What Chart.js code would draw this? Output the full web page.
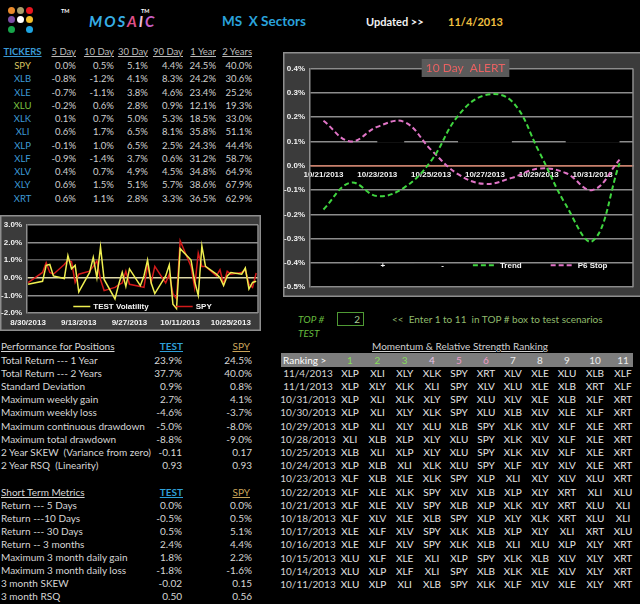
<!DOCTYPE html>
<html><head><meta charset="utf-8">
<script src="https://cdn.jsdelivr.net/npm/chart.js@4.4.0/dist/chart.umd.min.js"></script>
<style>
html,body{margin:0;padding:0;background:#000;}
#page{position:relative;width:640px;height:604px;overflow:hidden;background:#000;font-family:Lato,'Open Sans',sans-serif;font-size:10px;color:#d6d6d6;}
.t{position:absolute;white-space:nowrap;line-height:12px;}
#alertWrap{position:absolute;left:283px;top:52px;width:360px;height:245px;}
#volWrap{position:absolute;left:0;top:215px;width:261px;height:116px;}
.dot{position:absolute;width:7px;height:7px;border-radius:50%;}
#band{position:absolute;left:281px;top:353px;width:352px;height:13.5px;background:#7d7d7d;}
#topbox{position:absolute;left:337px;top:312px;width:25px;height:12px;border:1.5px solid #4f9a34;}
</style></head><body><div id="page">
<div id="band"></div>
<div id="topbox"></div>
<div id="alertWrap"><canvas id="alert"></canvas></div>
<div id="volWrap"><canvas id="vol"></canvas></div>
</div>
<script>
// ---------- DATA ----------
const tickers = ['SPY','XLB','XLE','XLU','XLK','XLI','XLP','XLF','XLV','XLY','XRT'];
const periodLabels = ['5 Day','10 Day','30 Day','90 Day','1 Year','2 Years'];
const ret5d  = [0.0,-0.8,-0.7,-0.2,0.1,0.6,-0.1,-0.9,0.4,0.6,0.6];
const ret10d = [0.5,-1.2,-1.1,0.6,0.7,1.7,1.0,-1.4,0.7,1.5,1.1];
const ret30d = [5.1,4.1,3.8,2.8,5.0,6.5,6.5,3.7,4.9,5.1,2.8];
const ret90d = [4.4,8.3,4.6,0.9,5.3,8.1,2.5,0.6,4.5,5.7,3.3];
const ret1y  = [24.5,24.2,23.4,12.1,18.5,35.8,24.3,31.2,34.8,38.6,36.5];
const ret2y  = [40.0,30.6,25.2,19.3,33.0,51.1,44.4,58.7,64.9,67.9,62.9];

const perfMetrics = ['Total Return --- 1 Year','Total Return --- 2 Years','Standard Deviation','Maximum weekly gain','Maximum weekly loss','Maximum continuous drawdown','Maximum total drawdown','2 Year SKEW  (Variance from zero)','2 Year RSQ  (Linearity)'];
const perfTest = ['23.9%','37.7%','0.9%','2.7%','-4.6%','-5.0%','-8.8%','-0.11','0.93'];
const perfSpy  = ['24.5%','40.0%','0.8%','4.1%','-3.7%','-8.0%','-9.0%','0.17','0.93'];

const shortMetrics = ['Return --- 5 Days','Return ---10 Days','Return --- 30 Days','Return -- 3 months','Maximum 3 month daily gain','Maximum 3 month daily loss','3 month SKEW','3 month RSQ'];
const shortTest = ['0.0%','-0.5%','0.5%','2.4%','1.8%','-1.8%','-0.02','0.50'];
const shortSpy  = ['0.0%','0.5%','5.1%','4.4%','2.2%','-1.6%','0.15','0.56'];

const rankNumbers = ['1','2','3','4','5','6','7','8','9','10','11'];
const rankDates = ['11/4/2013','11/1/2013','10/31/2013','10/30/2013','10/29/2013','10/28/2013','10/25/2013','10/24/2013','10/23/2013','10/22/2013','10/21/2013','10/18/2013','10/17/2013','10/16/2013','10/15/2013','10/14/2013','10/11/2013'];
const rankRows = [
 'XLP XLI XLY XLK SPY XRT XLV XLE XLU XLB XLF',
 'XLP XLY XLK XLI SPY XLV XLU XLE XLB XRT XLF',
 'XLP XLI XLK XLY SPY XLU XLV XLE XLB XLF XRT',
 'XLP XLI XLY XLK SPY XLU XLB XLV XLE XLF XRT',
 'XLP XLI XLY XLU XLB SPY XLK XLV XLF XLE XRT',
 'XLI XLB XLP XLY XLU SPY XLK XLV XLF XLE XRT',
 'XLB XLI XLP XLY XLU SPY XLK XLV XLF XLE XRT',
 'XLP XLB XLI XLK XLU SPY XLF XLY XLV XLE XRT',
 'XLF XLB XLE XLK SPY XLP XLI XLY XLV XLU XRT',
 'XLF XLE XLK SPY XLV XLB XLP XLY XRT XLI XLU',
 'XLF XLE XLV SPY XLB XLP XLK XLY XRT XLU XLI',
 'XLF XLV XLE XLB SPY XLP XLY XLK XRT XLU XLI',
 'XLE XLF XLV SPY XLK XLB XLP XLY XLI XRT XLU',
 'XLE XLF XLV SPY XLK XLB XLI XLU XLP XLY XRT',
 'XLU XLF XLE XLI XLP SPY XLK XLB XLV XLY XRT',
 'XLU XLP XLF XLI SPY XLB XLK XLE XLV XLY XRT',
 'XLU XLP XLI XLB SPY XLK XLF XLV XLE XLY XRT'
];

// 10 Day ALERT chart
const alertDays = ['10/21/2013','10/22/2013','10/23/2013','10/24/2013','10/25/2013','10/26/2013','10/27/2013','10/28/2013','10/29/2013','10/30/2013','10/31/2013','11/1/2013'];
const trendValues  = [-0.18,-0.07,-0.125,-0.09,0.02,0.205,0.29,0.265,0.06,-0.16,-0.31,0.01];
const p6StopValues = [0.185,0.10,0.16,0.18,0.065,-0.035,-0.075,-0.05,-0.012,-0.03,-0.10,0.025];
const plusValues   = [null,null,0.1,0.1,null,0.1,0.1,0.1,null,0.1,0.1,0.1];
const minusValues  = [null,null,null,null,null,null,null,null,null,null,null,null];

// Volatility chart
const volDates = ['8/30/2013','9/3/2013','9/4/2013','9/5/2013','9/6/2013','9/9/2013','9/10/2013','9/11/2013','9/12/2013','9/13/2013',
 '9/16/2013','9/17/2013','9/18/2013','9/19/2013','9/20/2013','9/23/2013','9/24/2013','9/25/2013','9/26/2013','9/27/2013',
 '9/30/2013','10/1/2013','10/2/2013','10/3/2013','10/4/2013','10/7/2013','10/8/2013','10/9/2013','10/10/2013','10/11/2013',
 '10/14/2013','10/15/2013','10/16/2013','10/17/2013','10/18/2013','10/21/2013','10/22/2013','10/23/2013','10/24/2013','10/25/2013',
 '10/28/2013','10/29/2013','10/30/2013','10/31/2013','11/1/2013'];
const testVol = [-0.37,-0.2,0.7,0.75,0.1,-0.05,1.25,0.5,0.7,-0.8,
 0.3,1.15,0.0,1.75,-0.1,-1.2,-0.4,0.3,-0.5,0.5,
 -0.45,0.1,1.0,-0.3,-0.9,0.1,0.73,-1.5,-1.75,1.65,
 1.0,-0.2,-1.0,1.8,0.64,0.2,0.0,-0.45,0.1,0.3,
 0.2,0.55,-0.64,-0.27,-0.2];
const spyRet = [-0.28,0.3,0.85,0.3,0.2,0.75,1.0,0.9,-0.27,0.2,
 0.37,0.64,0.95,-0.1,-0.73,-0.55,-0.4,-0.3,0.37,-0.37,
 -0.5,-0.55,0.73,-0.27,0.64,-0.3,0.2,-0.9,-1.2,2.1,
 0.64,-0.55,1.4,0.64,0.64,0.1,0.45,-0.37,0.37,0.2,
 0.3,0.45,-0.37,-0.55,0.27];
const volTickLabels = ['8/30/2013','9/13/2013','9/27/2013','10/11/2013','10/25/2013'];
const volTicks = [-2,-1,0,1,2,3];

// ---------- TEXT LAYOUT ----------
const page = document.getElementById('page');
function put(text, x, y, align, style, lh) {
  lh = lh || 12;
  const el = document.createElement('div');
  el.className = 't';
  el.textContent = text;
  el.style.lineHeight = lh + 'px';
  Object.assign(el.style, style || {});
  el.style.top = (y - lh / 2) + 'px';
  if (align === 'right') el.style.right = (640 - x) + 'px';
  else if (align === 'center') { el.style.left = x + 'px'; el.style.transform = 'translateX(-50%)'; }
  else el.style.left = x + 'px';
  page.appendChild(el);
  return el;
}
const pct = v => v.toFixed(1) + '%';

// header
const dotColors = [['#e88a2c','#a99f6b','#e8161e'],['#7b4ea6','#ffffff','#f2c02c'],['#17a54a',null,'#1ea5e2']];
dotColors.forEach((row, r) => row.forEach((c, k) => {
  if (!c) return;
  const d = document.createElement('div'); d.className = 'dot';
  d.style.left = (8 + k * 9) + 'px'; d.style.top = (6.5 + r * 9.5) + 'px'; d.style.background = c;
  page.appendChild(d);
}));
put('TM', 61, 11, 'left', {fontSize:'5.5px', fontWeight:'bold', color:'#fff'}, 8);
put('TM', 141, 11, 'left', {fontSize:'5.5px', fontWeight:'bold', color:'#fff'}, 8);
const mos = put('', 89, 21, 'left', {fontSize:'15px', fontWeight:'bold', fontStyle:'italic', letterSpacing:'2px'}, 18);
[['M','#37aee6'],['O','#37aee6'],['S','#37aee6'],['A','#e0508a'],['I','#f0c0d8'],['C','#c860c8']].forEach(([ch,c]) => {
  const s = document.createElement('span'); s.textContent = ch; s.style.color = c; mos.appendChild(s);
});
put('MS  X Sectors', 222, 21, 'left', {fontSize:'13.5px', fontWeight:'bold', color:'#2aa3dc', whiteSpace:'pre'}, 16);
put('Updated >>', 366, 22, 'left', {fontSize:'11px', fontWeight:'bold', color:'#f2f2f2'}, 14);
put('11/4/2013', 448, 22, 'left', {fontSize:'11px', fontWeight:'bold', color:'#f0c040'}, 14);

// tickers table
const colRight = [76,114,148,183,216,252];
const tblRow0 = 66, tblDy = 13.25;
put('TICKERS', 22.5, 51.5, 'center', {fontWeight:'bold', color:'#3a9ad6', textDecoration:'underline', fontSize:'9.5px'});
periodLabels.forEach((p, k) => put(p, colRight[k], 51.5, 'right', {color:'#bcbcbc', textDecoration:'underline', fontSize:'9.5px'}));
const tickerColor = t => t === 'SPY' ? '#d8c660' : (t === 'XLU' ? '#7cc242' : '#3d9ad6');
const retCols = [ret5d, ret10d, ret30d, ret90d, ret1y, ret2y];
tickers.forEach((t, i) => {
  const y = tblRow0 + i * tblDy;
  put(t, 22.5, y, 'center', {color: tickerColor(t), fontSize:'9.5px'});
  retCols.forEach((col, k) => put(pct(col[i]), colRight[k], y, 'right', {color:'#cfcfcf', fontSize:'9.5px'}));
});

// performance
put('Performance for Positions', 1, 346, 'left', {textDecoration:'underline', color:'#d6d6d6'});
put('TEST', 183, 346, 'right', {fontWeight:'bold', color:'#2f9fd8', textDecoration:'underline'});
put('SPY', 250, 346, 'right', {color:'#c9a45a', textDecoration:'underline'});
perfMetrics.forEach((m, i) => {
  const y = 360 + i * 13.1;
  put(m, 1, y, 'left', {whiteSpace:'pre'});
  put(perfTest[i], 182, y, 'right');
  put(perfSpy[i], 252, y, 'right');
});
put('Short Term Metrics', 1, 491.5, 'left', {textDecoration:'underline'});
put('TEST', 183, 491.5, 'right', {fontWeight:'bold', color:'#2f9fd8', textDecoration:'underline'});
put('SPY', 250, 491.5, 'right', {color:'#c9a45a', textDecoration:'underline'});
shortMetrics.forEach((m, i) => {
  const y = 504.7 + i * 13.1;
  put(m, 1, y, 'left', {whiteSpace:'pre'});
  put(shortTest[i], 182, y, 'right');
  put(shortSpy[i], 252, y, 'right');
});

// TOP # area
put('TOP #', 298, 319, 'left', {fontStyle:'italic', color:'#66bb3e'});
put('2', 360, 319, 'right', {color:'#a6cc94'});
put('<<  Enter 1 to 11  in TOP # box to test scenarios', 392, 319, 'left', {color:'#8fba6c', whiteSpace:'pre'});
put('TEST', 298, 333, 'left', {fontStyle:'italic', color:'#66bb3e'});

// ranking
put('Momentum & Relative Strength Ranking', 460, 346, 'center', {textDecoration:'underline', color:'#d0d0d0'});
const rankCx = [350,377.5,404.7,432,459,486,513,540,567,595,623];
const rankNumColor = k => k < 3 ? '#86dc5a' : (k === 3 ? '#e6c4e6' : (k < 6 ? '#ee9cc8' : '#ececec'));
put('Ranking >', 283, 360, 'left', {color:'#ffffff'});
rankNumbers.forEach((n, k) => put(n, rankCx[k], 360, 'center', {color: rankNumColor(k)}));
rankDates.forEach((d, i) => {
  const y = 372.7 + i * 13.2;
  put(d, 308, y, 'center', {color:'#d4d4d4'});
  rankRows[i].split(' ').forEach((t, k) => put(t, rankCx[k], y, 'center', {color:'#e6e6e6'}));
});

// ---------- CHARTS ----------
Chart.defaults.font.family = "'Liberation Sans', Arial, sans-serif";
Chart.defaults.animation = false;
const fmtPct = v => (Math.abs(v) < 1e-9 ? 0 : v).toFixed(1) + '%';

function drawFrame(chart, bg) {
  const {ctx, chartArea: a, width, height} = chart;
  ctx.save();
  ctx.fillStyle = bg; ctx.fillRect(0, 0, width, height);
  ctx.strokeStyle = '#8e8e8e'; ctx.lineWidth = 1.5;
  ctx.strokeRect(0.75, 0.75, width - 1.5, height - 1.5);
  ctx.fillStyle = '#000'; ctx.fillRect(a.left, a.top, a.right - a.left, a.bottom - a.top);
  ctx.restore();
}
function drawRightEdge(chart) {
  const {ctx, chartArea: a} = chart;
  ctx.save(); ctx.strokeStyle = '#8e8e8e'; ctx.lineWidth = 1.5;
  ctx.beginPath(); ctx.moveTo(a.right, a.top); ctx.lineTo(a.right, a.bottom); ctx.stroke(); ctx.restore();
}
function drawLegend(chart, cx, y, sample, gap, font) {
  const {ctx} = chart;
  ctx.save(); ctx.font = font;
  const items = chart.data.datasets.map(ds => ({ds, w: sample + 3 + ctx.measureText(ds.label).width}));
  const total = items.reduce((s, it) => s + it.w, 0) + gap * (items.length - 1);
  let x = cx - total / 2;
  items.forEach(({ds, w}) => {
    ctx.strokeStyle = ds.borderColor; ctx.lineWidth = ds.borderWidth;
    ctx.setLineDash(ds.borderDash || []);
    ctx.beginPath(); ctx.moveTo(x, y); ctx.lineTo(x + sample, y); ctx.stroke();
    ctx.setLineDash([]);
    ctx.fillStyle = '#f4f4f4'; ctx.textBaseline = 'middle';
    ctx.fillText(ds.label, x + sample + 3, y + 0.5);
    x += w + gap;
  });
  ctx.restore();
}

new Chart(document.getElementById('alert'), {
  type: 'line',
  data: { labels: alertDays, datasets: [
    {label:'+', data: plusValues, borderColor:'#000', borderWidth:2.5, pointRadius:0, tension:0, borderCapStyle:'butt'},
    {label:'-', data: minusValues, borderColor:'#000', borderWidth:2.5, pointRadius:0},
    {label:'Trend', data: trendValues, borderColor:'#3fd43f', borderWidth:2, borderDash:[5,3], pointRadius:0, tension:0.4},
    {label:'P6 Stop', data: p6StopValues, borderColor:'#e074c6', borderWidth:2, borderDash:[5,3], pointRadius:0, tension:0.4}
  ]},
  options: {
    responsive:true, maintainAspectRatio:false, animation:false,
    layout:{padding:{top:16.5, right:10, bottom:5, left:0}},
    plugins:{legend:{display:false}, tooltip:{enabled:false}},
    scales:{
      x:{ type:'category', position:{y:0}, offset:true, grid:{display:false, drawTicks:false},
          border:{display:true, color:'#c8806c', width:1.5},
          ticks:{color:'#f2f2f2', font:{size:8, weight:'bold'}, maxRotation:0, minRotation:0, autoSkip:false, padding:4,
                 callback:(v, i) => i % 2 === 0 ? alertDays[i] : ''} },
      y:{ min:-0.5, max:0.4, afterFit: s => { s.width = 27; },
          ticks:{stepSize:0.1, color:'#f2f2f2', font:{size:8, weight:'bold'}, padding:5, callback: v => fmtPct(v)},
          grid:{drawTicks:false, lineWidth:1.5, color: c => Math.abs(c.tick.value) < 1e-9 ? '#c8806c' : '#8c8c8c'},
          border:{display:true, color:'#8e8e8e', width:1.5} }
    }
  },
  plugins:[{
    id:'alertDecor',
    beforeDraw: c => drawFrame(c, '#3b3b3b'),
    afterDraw: c => {
      drawRightEdge(c);
      const a = c.chartArea, ctx = c.ctx;
      drawLegend(c, (a.left + a.right) / 2 + 9, a.bottom - 22, 24, 29, "bold 8px 'Liberation Sans', Arial");
      ctx.save();
      ctx.font = "12px Lato, 'Open Sans', sans-serif";
      const txt = '10 Day  ALERT';
      const tw = ctx.measureText(txt).width;
      const cx = (a.left + a.right) / 2 - 6;
      ctx.fillStyle = '#5a5a5a'; ctx.fillRect(cx - tw / 2 - 4, 7, tw + 8, 18);
      ctx.fillStyle = '#e86262'; ctx.textAlign = 'center'; ctx.textBaseline = 'middle';
      ctx.fillText(txt, cx, 16.5);
      ctx.restore();
    }
  }]
});

const dayOf = s => { const [m, d, y] = s.split('/').map(Number); return Math.round((new Date(y, m - 1, d) - new Date(2013, 7, 30)) / 86400000); };
new Chart(document.getElementById('vol'), {
  type: 'line',
  data: { datasets: [
    {label:'TEST Volatility', data: volDates.map((d, i) => ({x: dayOf(d), y: testVol[i]})), borderColor:'#eeee50', borderWidth:1.5, pointRadius:0, tension:0},
    {label:'SPY', data: volDates.map((d, i) => ({x: dayOf(d), y: spyRet[i]})), borderColor:'#d21a1a', borderWidth:1.5, pointRadius:0, tension:0}
  ]},
  options: {
    responsive:true, maintainAspectRatio:false, animation:false,
    layout:{padding:{top:7.5, right:3, bottom:0, left:0}},
    plugins:{legend:{display:false}, tooltip:{enabled:false}},
    scales:{
      x:{ type:'linear', min:-0.3, max:63.5, grid:{display:false, drawTicks:false}, border:{display:false},
          afterBuildTicks: s => { s.ticks = volTickLabels.map(l => ({value: dayOf(l)})); },
          afterFit: s => { s.height = 18; },
          ticks:{color:'#f2f2f2', font:{size:8, weight:'bold'}, maxRotation:0, autoSkip:false, padding:5,
                 callback:(v, i) => volTickLabels[i]} },
      y:{ min:-2, max:3, afterFit: s => { s.width = 27; },
          afterBuildTicks: s => { s.ticks = volTicks.map(v => ({value: v})); },
          ticks:{color:'#f2f2f2', font:{size:8, weight:'bold'}, padding:5, callback: v => v.toFixed(1) + '%'},
          grid:{drawTicks:false, lineWidth:1.5, color: c => c.tick.value === 0 ? '#ddd8a8' : (c.tick.value === 1 ? '#5c5c5c' : '#8c8c8c')},
          border:{display:true, color:'#8e8e8e', width:1.5} }
    }
  },
  plugins:[{
    id:'volDecor',
    beforeDraw: c => drawFrame(c, '#3b3b3b'),
    afterDraw: c => {
      drawRightEdge(c);
      const a = c.chartArea;
      drawLegend(c, (a.left + a.right) / 2, a.bottom - 6.5, 17, 27, "bold 8px 'Liberation Sans', Arial");
    }
  }]
});
</script>
</body></html>
